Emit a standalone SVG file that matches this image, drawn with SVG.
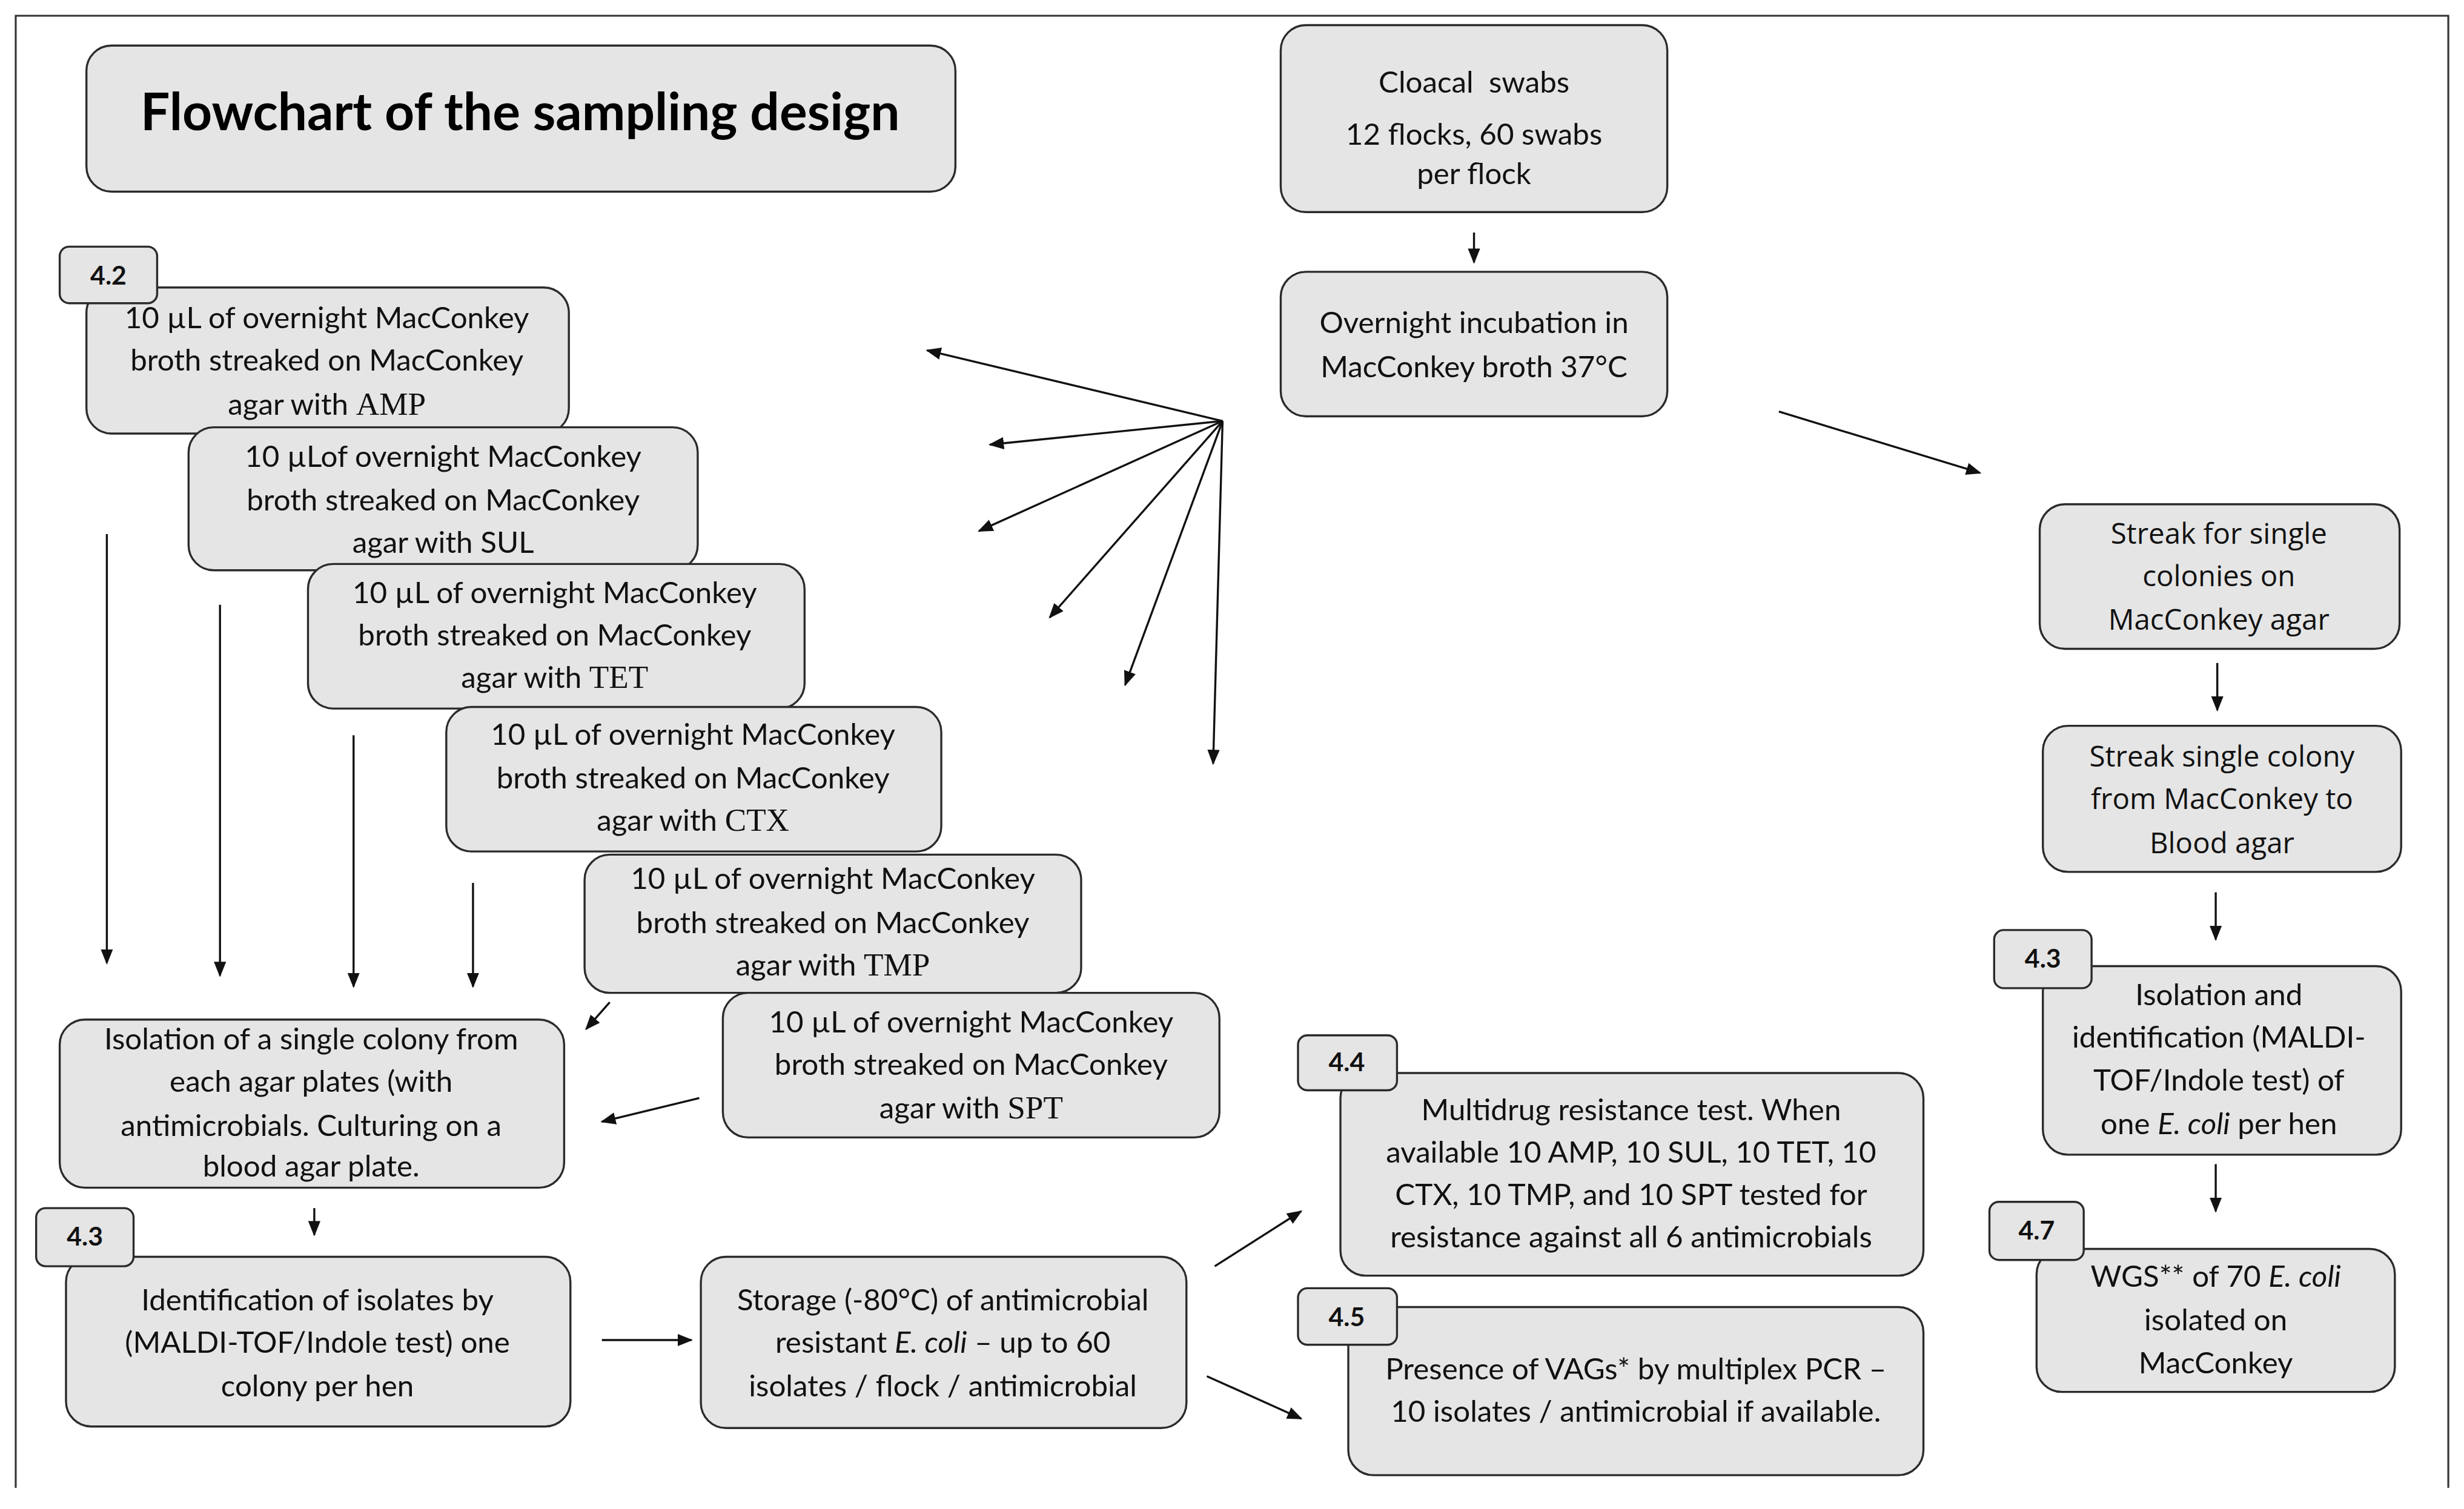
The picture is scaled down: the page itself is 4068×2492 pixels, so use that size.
<svg xmlns="http://www.w3.org/2000/svg" width="4068" height="2492" viewBox="0 0 4068 2492">
<defs>
<style>
.box{fill:#e5e5e5;stroke:#2b2b2b;stroke-width:1.3}
.lbl{fill:#e5e5e5;stroke:#2b2b2b;stroke-width:1.3}
.t{font-family:Lato,"Liberation Sans",sans-serif;font-size:19px;fill:#111;text-anchor:middle}
.r{font-family:"Open Sans","Liberation Sans",sans-serif;font-size:18.3px;fill:#111;text-anchor:middle}
.s{font-family:"Liberation Serif",serif;font-size:20.5px}
.b{font-family:Lato,"Liberation Sans",sans-serif;font-weight:bold;font-size:16.5px;fill:#111;text-anchor:middle}
.title{font-family:Lato,"Liberation Sans",sans-serif;font-weight:bold;font-size:33px;fill:#000;text-anchor:middle}
.c line{stroke:#111;stroke-width:1.3;marker-end:url(#ah)}
.i{font-style:italic}
</style>
<marker id="ah" viewBox="0 0 10 10" refX="9" refY="5" markerWidth="7.5" markerHeight="7.5" orient="auto" markerUnits="strokeWidth">
<path d="M0,1 L10,5 L0,9 z" fill="#111"/>
</marker>
</defs>
<rect width="4068" height="2492" fill="#fff"/>
<g transform="scale(2.5944)">
<path d="M10,947 V10 H1558 V947" fill="none" stroke="#333" stroke-width="1.2"/>

<g id="title"><rect class="box" x="55" y="29" width="553" height="93" rx="16"/><text class="title" x="331" y="83">Flowchart of the sampling design</text></g>

<g id="cloacal"><rect class="box" x="815" y="16" width="246" height="119" rx="16"/>
<text class="t" x="938" y="59" xml:space="preserve">Cloacal  swabs</text><text class="t" x="938" y="92">12 flocks, 60 swabs</text><text class="t" x="938" y="117">per flock</text></g>

<g id="incubation"><rect class="box" x="815" y="173" width="246" height="92" rx="16"/>
<text class="t" x="938" y="212">Overnight incubation in</text><text class="t" x="938" y="240">MacConkey broth 37°C</text></g>

<g id="streak1"><rect class="box" x="1298" y="321" width="229" height="92" rx="16"/>
<text class="r" x="1412" y="346">Streak for single</text><text class="r" x="1412" y="373">colonies on</text><text class="r" x="1412" y="401">MacConkey agar</text></g>

<g id="streak2"><rect class="box" x="1300" y="462" width="228" height="93" rx="16"/>
<text class="r" x="1414" y="488">Streak single colony</text><text class="r" x="1414" y="515">from MacConkey to</text><text class="r" x="1414" y="543">Blood agar</text></g>

<g id="isoid"><rect class="box" x="1300" y="615" width="228" height="120" rx="16"/>
<text class="t" x="1412" y="640">Isolation and</text><text class="t" x="1412" y="667">identification (MALDI-</text><text class="t" x="1412" y="694">TOF/Indole test) of</text><text class="t" x="1412" y="722">one <tspan class="i">E. coli</tspan> per hen</text></g>
<g id="lbl43r"><rect class="lbl" x="1269" y="592" width="62" height="37" rx="6"/><text class="b" x="1300" y="616">4.3</text></g>

<g id="wgs"><rect class="box" x="1296" y="795" width="228" height="91" rx="16"/>
<text class="t" x="1410" y="819">WGS** of 70 <tspan class="i">E. coli</tspan></text><text class="t" x="1410" y="847">isolated on</text><text class="t" x="1410" y="874">MacConkey</text></g>
<g id="lbl47"><rect class="lbl" x="1266" y="765" width="60" height="37" rx="6"/><text class="b" x="1296" y="789">4.7</text></g>

<g id="amp"><rect class="box" x="55" y="183" width="307" height="93" rx="16"/>
<text class="t" x="208" y="209">10 µL of overnight MacConkey</text><text class="t" x="208" y="236">broth streaked on MacConkey</text><text class="t" x="208" y="264">agar with <tspan class="s">AMP</tspan></text></g>
<g id="lbl42"><rect class="lbl" x="38" y="157" width="62" height="36" rx="6"/><text class="b" x="69" y="181">4.2</text></g>

<g id="sul"><rect class="box" x="120" y="272" width="324" height="91" rx="16"/>
<text class="t" x="282" y="297">10 µLof overnight MacConkey</text><text class="t" x="282" y="325">broth streaked on MacConkey</text><text class="t" x="282" y="352">agar with SUL</text></g>

<g id="tet"><rect class="box" x="196" y="359" width="316" height="92" rx="16"/>
<text class="t" x="353" y="384">10 µL of overnight MacConkey</text><text class="t" x="353" y="411">broth streaked on MacConkey</text><text class="t" x="353" y="438">agar with <tspan class="s">TET</tspan></text></g>

<g id="ctx"><rect class="box" x="284" y="450" width="315" height="92" rx="16"/>
<text class="t" x="441" y="474">10 µL of overnight MacConkey</text><text class="t" x="441" y="502">broth streaked on MacConkey</text><text class="t" x="441" y="529">agar with <tspan class="s">CTX</tspan></text></g>

<g id="tmp"><rect class="box" x="372" y="544" width="316" height="88" rx="16"/>
<text class="t" x="530" y="566">10 µL of overnight MacConkey</text><text class="t" x="530" y="594">broth streaked on MacConkey</text><text class="t" x="530" y="621">agar with <tspan class="s">TMP</tspan></text></g>

<g id="spt"><rect class="box" x="460" y="632" width="316" height="92" rx="16"/>
<text class="t" x="618" y="657">10 µL of overnight MacConkey</text><text class="t" x="618" y="684">broth streaked on MacConkey</text><text class="t" x="618" y="712">agar with <tspan class="s">SPT</tspan></text></g>

<g id="isolation"><rect class="box" x="38" y="649" width="321" height="107" rx="16"/>
<text class="t" x="198" y="668">Isolation of a single colony from</text><text class="t" x="198" y="695">each agar plates (with</text><text class="t" x="198" y="723">antimicrobials. Culturing on a</text><text class="t" x="198" y="749">blood agar plate.</text></g>

<g id="ident"><rect class="box" x="42" y="800" width="321" height="108" rx="16"/>
<text class="t" x="202" y="834">Identification of isolates by</text><text class="t" x="202" y="861">(MALDI-TOF/Indole test) one</text><text class="t" x="202" y="889">colony per hen</text></g>
<g id="lbl43l"><rect class="lbl" x="23" y="769" width="62" height="37" rx="6"/><text class="b" x="54" y="793">4.3</text></g>

<g id="storage"><rect class="box" x="446" y="800" width="309" height="109" rx="16"/>
<text class="t" x="600" y="834">Storage (-80°C) of antimicrobial</text><text class="t" x="600" y="861">resistant <tspan class="i">E. coli</tspan> – up to 60</text><text class="t" x="600" y="889">isolates / flock / antimicrobial</text></g>

<g id="multidrug"><rect class="box" x="853" y="683" width="371" height="129" rx="16"/>
<text class="t" x="1038" y="713">Multidrug resistance test. When</text><text class="t" x="1038" y="740">available 10 AMP, 10 SUL, 10 TET, 10</text><text class="t" x="1038" y="767">CTX, 10 TMP, and 10 SPT tested for</text><text class="t" x="1038" y="794">resistance against all 6 antimicrobials</text></g>
<g id="lbl44"><rect class="lbl" x="826" y="659" width="63" height="35" rx="6"/><text class="b" x="857" y="682">4.4</text></g>

<g id="presence"><rect class="box" x="858" y="832" width="366" height="107" rx="16"/>
<text class="t" x="1041" y="878">Presence of VAGs* by multiplex PCR –</text><text class="t" x="1041" y="905">10 isolates / antimicrobial if available.</text></g>
<g id="lbl45"><rect class="lbl" x="826" y="820" width="63" height="36" rx="6"/><text class="b" x="857" y="844">4.5</text></g>

<g id="connectors" class="c">
<line x1="938" y1="148" x2="938" y2="167"/>
<line x1="778" y1="268" x2="590" y2="223"/>
<line x1="778" y1="268" x2="630" y2="283"/>
<line x1="778" y1="268" x2="623" y2="338"/>
<line x1="778" y1="268" x2="668" y2="393"/>
<line x1="778" y1="268" x2="716" y2="436"/>
<line x1="778" y1="268" x2="772" y2="486"/>
<line x1="1132" y1="262" x2="1260" y2="301"/>
<line x1="1411" y1="422" x2="1411" y2="452"/>
<line x1="1410" y1="568" x2="1410" y2="598"/>
<line x1="1410" y1="741" x2="1410" y2="771"/>
<line x1="68" y1="340" x2="68" y2="613"/>
<line x1="140" y1="385" x2="140" y2="621"/>
<line x1="225" y1="468" x2="225" y2="628"/>
<line x1="301" y1="562" x2="301" y2="628"/>
<line x1="388" y1="638" x2="373" y2="655"/>
<line x1="445" y1="699" x2="383" y2="714"/>
<line x1="200" y1="769" x2="200" y2="786"/>
<line x1="383" y1="853" x2="440" y2="853"/>
<line x1="773" y1="806" x2="828" y2="771"/>
<line x1="768" y1="876" x2="828" y2="903"/>
</g>
</g>
</svg>
